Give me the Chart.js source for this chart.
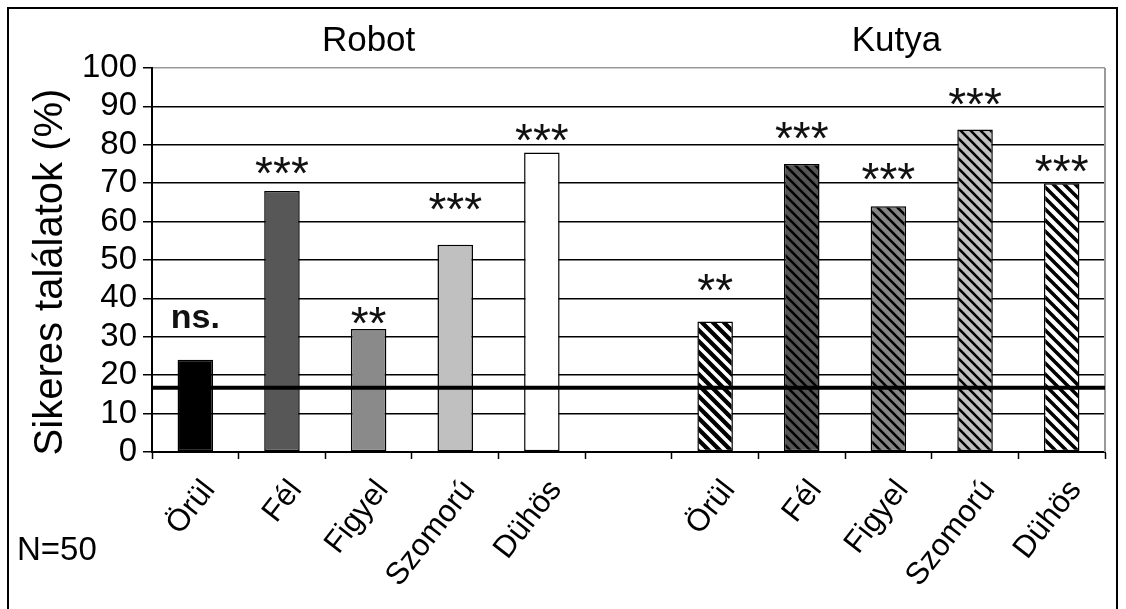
<!DOCTYPE html>
<html>
<head>
<meta charset="utf-8">
<script src="https://cdn.jsdelivr.net/npm/chart.js@4"></script>
<style>
  html, body { margin: 0; padding: 0; background: #fff; }
  canvas { display: block; }
</style>
</head>
<body>
<canvas id="chart" width="1126" height="609"></canvas>
<script>
// data
const groupTitles = ['Robot', 'Kutya'];
const emotions = ['Örül', 'Fél', 'Figyel', 'Szomorú', 'Dühös'];
const robotValues = [24, 68, 32, 54, 78];
const dogValues = [34, 75, 64, 84, 70];
const robotMarks = ['ns.', '***', '**', '***', '***'];
const dogMarks = ['**', '***', '***', '***', '***'];
const robotMarkLevels = [34.5, 75.5, 36.5, 66, 84];
const dogMarkLevels = [45, 84.5, 74, 93.5, 76];
const yTickValues = [0, 10, 20, 30, 40, 50, 60, 70, 80, 90, 100];
const chanceLevel = 16.7;
const yTitle = 'Sikeres találatok (%)';
const sampleNote = 'N=50';

const FONT = '"Liberation Sans", Arial, sans-serif';

function hatch(bg, fg, period, width) {
    const c = document.createElement('canvas');
    c.width = period;
    c.height = period;
    const g = c.getContext('2d');
    g.fillStyle = bg;
    g.fillRect(0, 0, period, period);
    g.strokeStyle = fg;
    g.lineWidth = width;
    for (let k = -1; k <= 1; k++) {
        g.beginPath();
        g.moveTo(k * period - 2, -2);
        g.lineTo(k * period + period + 2, period + 2);
        g.stroke();
    }
    return g.createPattern(c, 'repeat');
}

const robotFills = ['#000000', '#575757', '#8a8a8a', '#c0c0c0', '#ffffff'];
const dogFills = [
    hatch('#000000', '#ffffff', 11, 3.5),
    hatch('#555555', '#000000', 10, 2.6),
    hatch('#858585', '#000000', 10, 2.6),
    hatch('#c0c0c0', '#000000', 10, 2.6),
    hatch('#ffffff', '#000000', 11, 3.5)
];

const labels = [...emotions, '', ...emotions];
const values = [...robotValues, null, ...dogValues];
const fills = [...robotFills, '#ffffff', ...dogFills];
const marks = [...robotMarks, '', ...dogMarks];
const markLevels = [...robotMarkLevels, null, ...dogMarkLevels];

const decor = {
    id: 'decor',
    beforeDraw(chart) {
        const ctx = chart.ctx;
        ctx.save();
        ctx.fillStyle = '#fff';
        ctx.fillRect(0, 0, chart.width, chart.height);
        ctx.strokeStyle = '#000';
        ctx.lineWidth = 2;
        ctx.strokeRect(8, 8, 1109, 610);
        ctx.restore();
    },
    afterDatasetsDraw(chart) {
        const ctx = chart.ctx;
        const area = chart.chartArea;
        const x = chart.scales.x;
        const y = chart.scales.y;
        ctx.save();

        // gray right edge of the plot
        ctx.strokeStyle = '#9a9a9a';
        ctx.lineWidth = 2;
        ctx.beginPath();
        ctx.moveTo(area.right, area.top);
        ctx.lineTo(area.right, area.bottom);
        ctx.stroke();

        // chance level
        const cy = y.getPixelForValue(chanceLevel);
        ctx.strokeStyle = '#000';
        ctx.lineWidth = 4;
        ctx.beginPath();
        ctx.moveTo(area.left, cy);
        ctx.lineTo(area.right, cy);
        ctx.stroke();

        // significance marks
        ctx.fillStyle = '#111';
        ctx.textAlign = 'center';
        ctx.textBaseline = 'alphabetic';
        marks.forEach((m, i) => {
            if (!m) return;
            const px = x.getPixelForValue(i);
            const py = y.getPixelForValue(markLevels[i]);
            if (m.includes('*')) {
                ctx.font = '46px ' + FONT;
                ctx.fillText(m, px, py + 0.58 * 46);
            } else {
                ctx.font = 'bold 34px ' + FONT;
                ctx.fillText(m, px, py + 0.26 * 34);
            }
        });

        // group titles
        ctx.fillStyle = '#000';
        ctx.font = '35px ' + FONT;
        ctx.fillText(groupTitles[0], x.getPixelForValue(2), 51);
        ctx.fillText(groupTitles[1], x.getPixelForValue(8) + 8, 51);

        // y title
        ctx.save();
        ctx.translate(51, 272);
        ctx.rotate(-Math.PI / 2);
        ctx.textBaseline = 'middle';
        ctx.font = '40px ' + FONT;
        ctx.fillText(yTitle, 0, 0);
        ctx.restore();

        // sample size
        ctx.textAlign = 'left';
        ctx.font = '33px ' + FONT;
        ctx.fillText(sampleNote, 17, 560);

        ctx.restore();
    }
};

new Chart(document.getElementById('chart'), {
    type: 'bar',
    data: {
        labels: labels,
        datasets: [{
            data: values,
            backgroundColor: fills,
            borderColor: '#000',
            borderWidth: 1.5,
            borderSkipped: false,
            barPercentage: 0.41,
            categoryPercentage: 1
        }]
    },
    options: {
        responsive: false,
        animation: false,
        layout: {
            padding: { left: 0, top: 68, right: 21, bottom: 0 }
        },
        plugins: {
            legend: { display: false },
            tooltip: { enabled: false }
        },
        scales: {
            x: {
                offset: true,
                afterFit: scale => { scale.height = 157; },
                grid: {
                    offset: true,
                    drawOnChartArea: false,
                    tickLength: 7,
                    tickColor: '#000',
                    tickWidth: 1.5
                },
                border: { color: '#000', width: 2 },
                ticks: {
                    autoSkip: false,
                    maxRotation: 52,
                    minRotation: 52,
                    labelOffset: 14,
                    padding: 14,
                    color: '#000',
                    font: { family: FONT, size: 31 }
                }
            },
            y: {
                min: 0,
                max: 100,
                afterFit: scale => { scale.width = 152; },
                afterBuildTicks: scale => {
                    scale.ticks = yTickValues.map(v => ({ value: v }));
                },
                grid: {
                    color: ctx => (ctx.tick && ctx.tick.value === 100 ? '#9a9a9a' : '#000'),
                    lineWidth: 1.5,
                    tickLength: 9,
                    tickColor: '#000',
                    tickWidth: 1.5
                },
                border: { color: '#000', width: 2 },
                ticks: {
                    autoSkip: false,
                    padding: 6,
                    color: '#000',
                    font: { family: FONT, size: 33 }
                }
            }
        }
    },
    plugins: [decor]
});
</script>
</body>
</html>
